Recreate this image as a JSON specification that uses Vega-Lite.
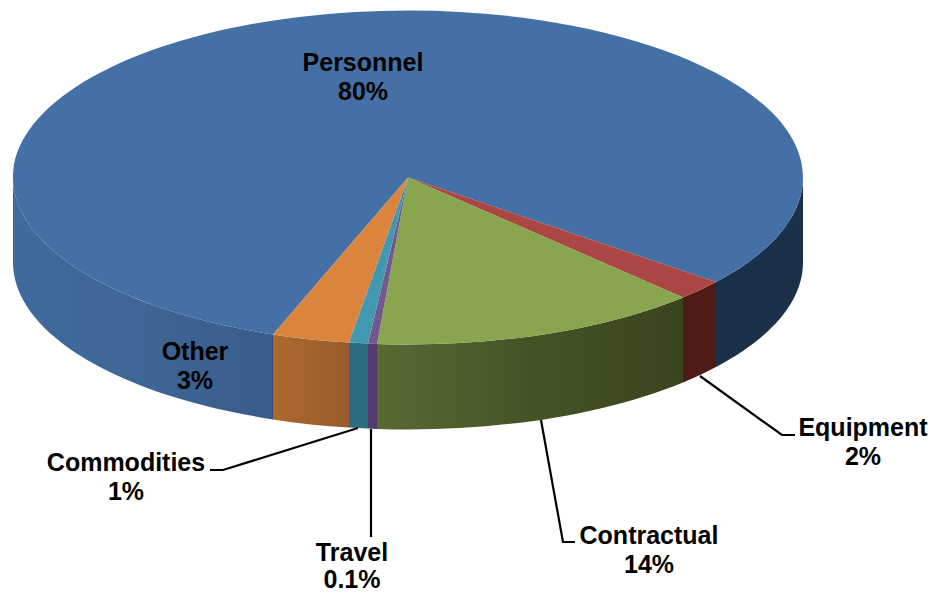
{
"$schema":"https://vega.github.io/schema/vega-lite/v6.json",
"width":934,"height":593,"padding":0,
"autosize":{"type":"none"},
"background":"#ffffff",
"config":{"view":{"stroke":null}},
"data":{"values":[
{"category":"Personnel","share":80,"label":"Personnel\n80%"},
{"category":"Equipment","share":2,"label":"Equipment\n2%"},
{"category":"Contractual","share":14,"label":"Contractual\n14%"},
{"category":"Travel","share":0.1,"label":"Travel\n0.1%"},
{"category":"Commodities","share":1,"label":"Commodities\n1%"},
{"category":"Other","share":3,"label":"Other\n3%"}
]},
"resolve":{"scale":{"shape":"independent","fill":"independent"}},
"layer":[
{"mark":{"type":"point","filled":true,"opacity":1,"size":4,"strokeWidth":0},
 "encoding":{
  "shape":{"field":"category","type":"nominal","legend":null,"scale":{
   "domain":["Personnel","Equipment","Contractual","Travel","Commodities","Other"],
   "range":[
    "M-454 -119A395 167 0 0 0 -194 37.9L-194 122.9A395 167 0 0 1 -454 -34ZM249 -14.5A395 167 0 0 0 336 -119L336 -34A395 167 0 0 1 249 70.5Z",
    "M249 -14.5A395 167 0 0 1 216 0.9L216 85.9A395 167 0 0 0 249 70.5Z",
    "M216 0.9A395 167 0 0 1 -90 47.5L-90 132.5A395 167 0 0 0 216 85.9Z",
    "M-90 47.5A395 167 0 0 1 -99 47.1L-99 132.1A395 167 0 0 0 -90 132.5Z",
    "M-99 47.1A395 167 0 0 1 -118 46.1L-118 131.1A395 167 0 0 0 -99 132.1Z",
    "M-118 46.1A395 167 0 0 1 -194 37.9L-194 122.9A395 167 0 0 0 -118 131.1Z"
   ]}},
  "fill":{"condition":[
   {"test":"datum.category==='Personnel'","value":{"gradient":"linear","stops":[{"offset":0,"color":"#3f6a9c"},{"offset":0.15,"color":"#3e6696"},{"offset":0.328,"color":"#395c8a"},{"offset":0.33,"color":"#1b3049"},{"offset":1,"color":"#1b3049"}]}},
   {"test":"datum.category==='Equipment'","value":"#4e1b17"},
   {"test":"datum.category==='Contractual'","value":{"gradient":"linear","stops":[{"offset":0,"color":"#586a31"},{"offset":0.5,"color":"#445326"},{"offset":1,"color":"#39441d"}]}},
   {"test":"datum.category==='Travel'","value":"#553b6d"},
   {"test":"datum.category==='Commodities'","value":"#2b6c80"}
  ],"value":{"gradient":"linear","stops":[{"offset":0,"color":"#ad692f"},{"offset":1,"color":"#985c2a"}]}}
 }},
{"mark":{"type":"point","filled":true,"opacity":1,"size":4,"strokeWidth":0},
 "encoding":{
  "shape":{"field":"category","type":"nominal","legend":null,"scale":{
   "domain":["Personnel","Equipment","Contractual","Travel","Commodities","Other"],
   "range":[
    "M-59 -119L249 -14.5A395 167 0 1 0 -194 37.9Z",
    "M-59 -119L249 -14.5A395 167 0 0 1 216 0.9Z",
    "M-59 -119L216 0.9A395 167 0 0 1 -90 47.5Z",
    "M-59 -119L-90 47.5A395 167 0 0 1 -99 47.1Z",
    "M-59 -119L-99 47.1A395 167 0 0 1 -118 46.1Z",
    "M-59 -119L-118 46.1A395 167 0 0 1 -194 37.9Z"
   ]}},
  "fill":{"field":"category","type":"nominal","legend":null,"scale":{
   "domain":["Personnel","Equipment","Contractual","Travel","Commodities","Other"],
   "range":["#4470a5","#aa4643","#89a54e","#71588f","#4198af","#db843d"]}}
 }},
{"transform":[{"filter":{"field":"category","oneOf":["Equipment","Contractual","Travel","Commodities"]}}],
 "mark":{"type":"point","filled":false,"opacity":1,"size":4,"stroke":"#000000","strokeWidth":2.2,"fill":"transparent"},
 "encoding":{
  "shape":{"field":"category","type":"nominal","legend":null,"scale":{
   "domain":["Equipment","Contractual","Travel","Commodities"],
   "range":[
    "M233 79.5L315 138.5L328 138.5",
    "M74 123.5L96 245.5L108 245.5",
    "M-96 132.5L-96 240.5",
    "M-109 131.5L-244 173.5L-257 173.5"
   ]}}
 }},
{"transform":[{"filter":{"field":"category","equal":"Personnel"}}],
 "mark":{"type":"text","font":"Liberation Sans","fontWeight":"bold","fontSize":25,"lineBreak":"\n","lineHeight":29,"align":"center","baseline":"middle","color":"#000000","dx":-104,"dy":-233.5},
 "encoding":{"text":{"field":"label","type":"nominal"}}},
{"transform":[{"filter":{"field":"category","equal":"Other"}}],
 "mark":{"type":"text","font":"Liberation Sans","fontWeight":"bold","fontSize":25,"lineBreak":"\n","lineHeight":29,"align":"center","baseline":"middle","color":"#000000","dx":-272,"dy":55.5},
 "encoding":{"text":{"field":"label","type":"nominal"}}},
{"transform":[{"filter":{"field":"category","equal":"Equipment"}}],
 "mark":{"type":"text","font":"Liberation Sans","fontWeight":"bold","fontSize":25,"lineBreak":"\n","lineHeight":29,"align":"center","baseline":"middle","color":"#000000","dx":396,"dy":131.5},
 "encoding":{"text":{"field":"label","type":"nominal"}}},
{"transform":[{"filter":{"field":"category","equal":"Contractual"}}],
 "mark":{"type":"text","font":"Liberation Sans","fontWeight":"bold","fontSize":25,"lineBreak":"\n","lineHeight":29,"align":"center","baseline":"middle","color":"#000000","dx":182,"dy":239},
 "encoding":{"text":{"field":"label","type":"nominal"}}},
{"transform":[{"filter":{"field":"category","equal":"Travel"}}],
 "mark":{"type":"text","font":"Liberation Sans","fontWeight":"bold","fontSize":25,"lineBreak":"\n","lineHeight":27,"align":"center","baseline":"middle","color":"#000000","dx":-115,"dy":256.5},
 "encoding":{"text":{"field":"label","type":"nominal"}}},
{"transform":[{"filter":{"field":"category","equal":"Commodities"}}],
 "mark":{"type":"text","font":"Liberation Sans","fontWeight":"bold","fontSize":25,"lineBreak":"\n","lineHeight":29,"align":"center","baseline":"middle","color":"#000000","dx":-341,"dy":166.5},
 "encoding":{"text":{"field":"label","type":"nominal"}}}
]
}
